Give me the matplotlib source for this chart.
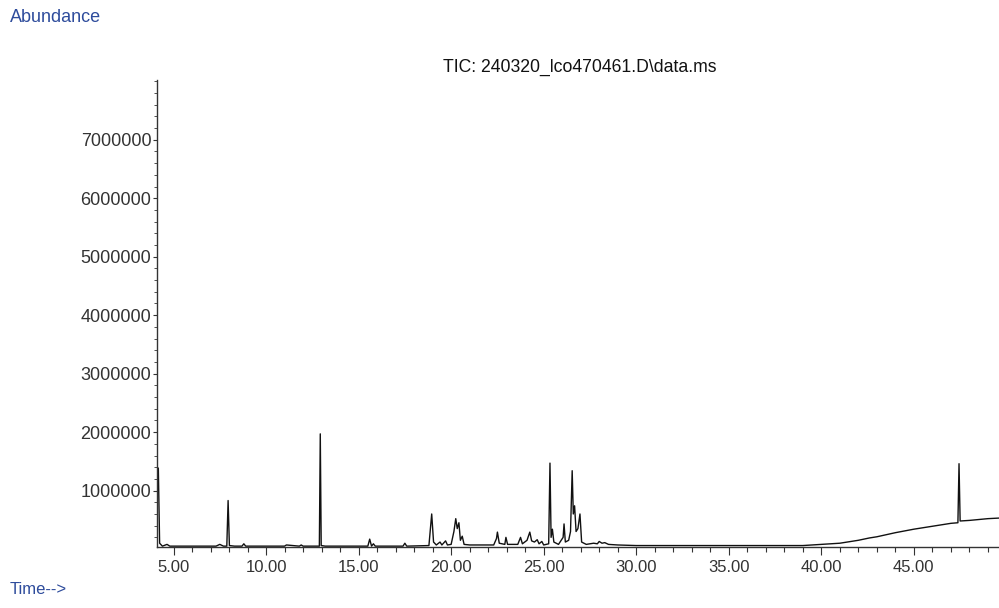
#!/usr/bin/env python
"""
Total ion chromatogram (TIC) redrawn in ChemStation style.
"""
import matplotlib
matplotlib.use('Agg')
import matplotlib.pyplot as plt
from matplotlib.ticker import MultipleLocator, FixedLocator, FormatStrFormatter

# trace: retention time (min) and abundance
time_min = [
    4.12, 4.18, 4.25, 4.40, 4.65, 4.80, 6.00, 7.30, 7.50, 7.70,
    7.88, 7.95, 8.02, 8.30, 8.70, 8.80, 8.90, 10.50, 11.00, 11.10,
    11.80, 11.90, 12.00, 12.88, 12.93, 12.98, 13.20, 15.50, 15.60, 15.70,
    15.80, 15.90, 17.40, 17.50, 17.60, 18.80, 18.95, 19.05, 19.20, 19.40,
    19.50, 19.70, 19.80, 20.00, 20.15, 20.25, 20.33, 20.42, 20.50, 20.60,
    20.70, 21.00, 22.30, 22.45, 22.50, 22.60, 22.90, 22.96, 23.05, 23.60,
    23.75, 23.85, 24.10, 24.25, 24.35, 24.50, 24.65, 24.75, 24.90, 25.00,
    25.27, 25.34, 25.40, 25.47, 25.55, 25.80, 26.05, 26.10, 26.17, 26.35,
    26.45, 26.54, 26.60, 26.67, 26.75, 26.85, 26.96, 27.05, 27.30, 27.70,
    27.90, 28.00, 28.15, 28.30, 28.50, 29.00, 30.00, 33.00, 36.00, 39.00,
    39.50, 40.00, 41.00, 42.00, 42.60, 43.00, 44.00, 45.00, 46.00, 47.00,
    47.38, 47.44, 47.50, 48.00, 49.00, 49.60,
]
abundance = [
    1.40e6, 1.38e6, 0.10e6, 0.05e6, 0.08e6, 0.05e6, 0.05e6, 0.05e6, 0.08e6, 0.05e6,
    0.05e6, 0.83e6, 0.06e6, 0.05e6, 0.05e6, 0.09e6, 0.05e6, 0.05e6, 0.05e6, 0.07e6,
    0.05e6, 0.07e6, 0.05e6, 0.05e6, 1.97e6, 0.06e6, 0.05e6, 0.05e6, 0.17e6, 0.05e6,
    0.09e6, 0.05e6, 0.05e6, 0.10e6, 0.05e6, 0.06e6, 0.60e6, 0.12e6, 0.07e6, 0.12e6,
    0.07e6, 0.14e6, 0.07e6, 0.08e6, 0.30e6, 0.52e6, 0.35e6, 0.45e6, 0.15e6, 0.22e6,
    0.08e6, 0.07e6, 0.07e6, 0.18e6, 0.29e6, 0.10e6, 0.08e6, 0.20e6, 0.08e6, 0.08e6,
    0.20e6, 0.09e6, 0.15e6, 0.29e6, 0.14e6, 0.12e6, 0.16e6, 0.09e6, 0.13e6, 0.07e6,
    0.09e6, 1.47e6, 0.20e6, 0.34e6, 0.12e6, 0.08e6, 0.20e6, 0.43e6, 0.12e6, 0.15e6,
    0.30e6, 1.34e6, 0.60e6, 0.74e6, 0.30e6, 0.35e6, 0.60e6, 0.12e6, 0.08e6, 0.10e6,
    0.09e6, 0.13e6, 0.10e6, 0.11e6, 0.08e6, 0.07e6, 0.06e6, 0.06e6, 0.06e6, 0.06e6,
    0.07e6, 0.08e6, 0.10e6, 0.15e6, 0.19e6, 0.21e6, 0.28e6, 0.34e6, 0.39e6, 0.44e6,
    0.45e6, 1.46e6, 0.48e6, 0.49e6, 0.52e6, 0.53e6,
]

# labelled abundance ticks (no 0 and no 8000000 in the original)
y_ticks = [1e6, 2e6, 3e6, 4e6, 5e6, 6e6, 7e6]

title_text = 'TIC: 240320_lco470461.D\\data.ms'
blue = '#2e4c9c'
grey = '#333333'

plt.rcParams['font.family'] = ['Liberation Sans', 'DejaVu Sans']

fig = plt.figure(figsize=(9.99, 6.08), dpi=100)
ax = fig.add_axes([0.157, 0.1003, 0.843, 0.768])

ax.plot(time_min, abundance, color='#111111', linewidth=1.0)

ax.set_xlim(4.1, 49.6)
ax.set_ylim(3.5e4, 8.02e6)

ax.xaxis.set_major_locator(MultipleLocator(5))
ax.xaxis.set_minor_locator(MultipleLocator(1))
ax.xaxis.set_major_formatter(FormatStrFormatter('%.2f'))
ax.yaxis.set_major_locator(FixedLocator(y_ticks))
ax.yaxis.set_minor_locator(MultipleLocator(2e5))
ax.yaxis.set_major_formatter(FormatStrFormatter('%d'))

ax.tick_params(axis='x', which='major', direction='out', length=6,
               width=0.8, colors=grey, labelsize=12, pad=3)
ax.tick_params(axis='x', which='minor', direction='out', length=3.5,
               width=0.8, colors=grey)
ax.tick_params(axis='y', which='major', direction='out', length=3,
               width=0.8, colors=grey, labelsize=13, pad=1)
ax.tick_params(axis='y', which='minor', direction='out', length=2,
               width=0.6, colors=grey)

for side in ['top', 'right']:
    ax.spines[side].set_visible(False)
for side in ['left', 'bottom']:
    ax.spines[side].set_color(grey)
    ax.spines[side].set_linewidth(1.0)

fig.text(443 / 999, 1 - 67 / 608, title_text, fontsize=12.7, color='#111111',
         ha='left', va='center')
fig.text(10 / 999, 1 - 17 / 608, 'Abundance', fontsize=13, color=blue,
         ha='left', va='center')
fig.text(10 / 999, 1 - 590 / 608, 'Time-->', fontsize=12, color=blue,
         ha='left', va='center')

fig.savefig('out.png', dpi=100)
